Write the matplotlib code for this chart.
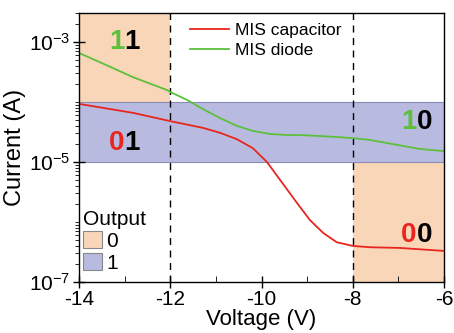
import numpy as np
import matplotlib
matplotlib.use("Agg")
from matplotlib import pyplot as plt
from matplotlib.patches import Patch, Rectangle
from matplotlib.ticker import FixedLocator, LogLocator, MultipleLocator, NullFormatter

plt.rcParams['font.family'] = ['Liberation Sans', 'DejaVu Sans']
plt.rcParams['axes.unicode_minus'] = False

# Data
v_cap = [-14, -12.82, -12.0, -11.28, -10.9, -10.54, -10.19, -9.88, -9.59, -9.22, -8.94,
         -8.65, -8.35, -8.0, -7.62, -6.96, -6.5, -6]
i_cap = [9.3e-5, 6.6e-5, 4.8e-5, 3.7e-5, 3.05e-5, 2.4e-5, 1.7e-5, 1.0e-5, 5.0e-6, 2.07e-6, 1.08e-6,
         6.6e-7, 4.6e-7, 4.0e-7, 3.8e-7, 3.7e-7, 3.5e-7, 3.3e-7]

v_dio = [-14, -13.54, -12.82, -12.07, -12.0, -11.63, -11.28, -10.91, -10.54, -10.19, -9.81,
         -9.44, -9.09, -8.72, -8.35, -8.0, -7.62, -7.25, -6.53, -6]
i_dio = [6.56e-4, 4.6e-4, 2.6e-4, 1.58e-4, 1.47e-4, 1.08e-4, 7.6e-5, 5.4e-5, 4.0e-5, 3.3e-5, 2.93e-5,
         2.82e-5, 2.8e-5, 2.71e-5, 2.61e-5, 2.5e-5, 2.33e-5, 2.07e-5, 1.65e-5, 1.52e-5]

orange = '#f9d6b8'
blue = '#b8bbdf'
red = '#e8251f'
green = '#5dbf3c'

fig = plt.figure(figsize=(4.54, 3.33), dpi=100)
ax = fig.add_axes([0.174, 0.153, 0.804, 0.808])

# Output regions
ax.add_patch(Rectangle((-14, 1e-4), 2, 1, facecolor=orange, edgecolor='none', zorder=0))
ax.add_patch(Rectangle((-8, 1e-8), 2, 1e-5 - 1e-8, facecolor=orange, edgecolor='none', zorder=0))
ax.add_patch(Rectangle((-15, 1e-5), 10, 9e-5, facecolor=blue, edgecolor='#8a8db8', lw=0.8, zorder=0))

ax.axvline(-12, color='k', ls=(0, (5, 4)), lw=1)
ax.axvline(-8, color='k', ls=(0, (5, 4)), lw=1)

l1, = ax.plot(v_cap, i_cap, color=red, lw=1.3, label='MIS capacitor')
l2, = ax.plot(v_dio, i_dio, color=green, lw=1.3, label='MIS diode')

ax.set_yscale('log')
ax.set_xlim(-14, -6)
ax.set_ylim(1e-7, 3.04e-3)
ax.xaxis.set_major_locator(MultipleLocator(2))
ax.xaxis.set_minor_locator(MultipleLocator(1))
ax.yaxis.set_major_locator(FixedLocator([1e-7, 1e-5, 1e-3]))
ax.yaxis.set_minor_locator(LogLocator(base=10, subs=np.arange(1, 10)))
ax.yaxis.set_minor_formatter(NullFormatter())
ax.tick_params(axis='both', which='major', direction='inout', length=8, width=1, labelsize=15, pad=2)
ax.tick_params(axis='x', which='minor', direction='in', length=4)
ax.tick_params(axis='y', which='minor', direction='out', length=3)
for s in ax.spines.values():
    s.set_linewidth(1)

ax.set_xlabel('Voltage (V)', fontsize=16, labelpad=0)
ax.set_ylabel('Current (A)', fontsize=17, labelpad=2)

# State labels
def state(x, y, a, b, ca, cb):
    ax.annotate(a, (x, y), ha='right', va='center', fontsize=20, fontweight='bold', color=ca)
    ax.annotate(b, (x, y), ha='left', va='center', fontsize=20, fontweight='bold', color=cb)

state(-13.0, 1.0e-3, '1', '1', green, 'k')
state(-13.0, 2.1e-5, '0', '1', red, 'k')
state(-6.6, 4.7e-5, '1', '0', green, 'k')
state(-6.6, 6.0e-7, '0', '0', red, 'k')

leg1 = ax.legend(handles=[l1, l2], loc='upper left', bbox_to_anchor=(0.26, 1.02), frameon=False,
                 fontsize=12.5, handlelength=2.3, handletextpad=0.3, labelspacing=0.25)
ax.add_artist(leg1)
ax.legend(handles=[Patch(facecolor=orange, edgecolor='#888888', lw=0.8, label='0'),
                   Patch(facecolor=blue, edgecolor='#888888', lw=0.8, label='1')],
          title='Output', loc='lower left', bbox_to_anchor=(0.0, 0.02), frameon=False,
          fontsize=15, title_fontsize=15, handlelength=0.9, handleheight=0.85,
          handletextpad=0.2, labelspacing=0.1, borderpad=0.1, borderaxespad=0.1,
          alignment='left')

fig.savefig('out.png', dpi=100)
